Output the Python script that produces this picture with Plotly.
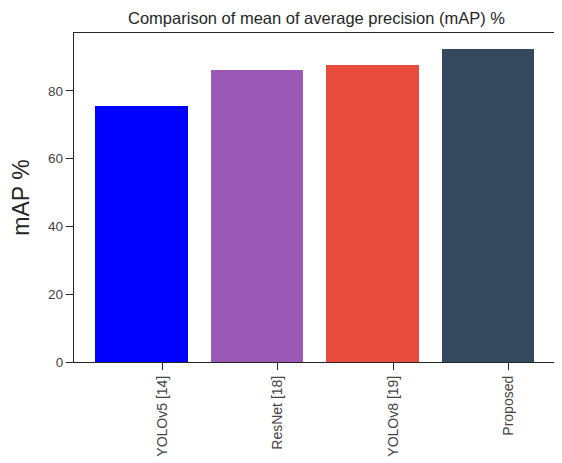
import plotly.graph_objects as go

categories = ["YOLOv5 [14]", "ResNet [18]", "YOLOv8 [19]", "Proposed"]
map_values = [75.5, 86.2, 87.6, 92.4]
bar_colors = ["#0000ff", "#9b59b6", "#e74c3c", "#34495e"]
y_ticks = [0, 20, 40, 60, 80]

positions = list(range(len(categories)))
tick_offset = 0.18

# The page body has an 8px default margin; size the figure to fit the window.
page_offset = 8
fig_w = 562 - page_offset
fig_h = 463 - page_offset

fig = go.Figure(
    go.Bar(
        x=positions,
        y=map_values,
        width=0.8,
        marker=dict(color=bar_colors, line=dict(width=0)),
    )
)

axis_color = "#262626"
fig.update_layout(
    width=fig_w,
    height=fig_h,
    margin=dict(l=74 - page_offset, r=3, t=33 - page_offset, b=101, autoexpand=False),
    plot_bgcolor="white",
    paper_bgcolor="white",
    font=dict(family="Liberation Sans, Arial, sans-serif", color="#333333"),
    showlegend=False,
    bargap=0,
    title=dict(
        text="Comparison of mean of average precision (mAP) %",
        x=0.5,
        xref="paper",
        xanchor="center",
        y=1 - (18 - page_offset) / fig_h,
        yref="container",
        yanchor="middle",
        font=dict(size=16.5, color=axis_color),
    ),
)

fig.update_xaxes(
    automargin=False,
    range=[-0.584, 3.616],
    tickmode="array",
    tickvals=[p + tick_offset for p in positions],
    ticktext=categories,
    tickangle=-90,
    tickfont=dict(size=14, color="#444444"),
    ticks="outside",
    ticklen=7,
    tickwidth=1.2,
    tickcolor=axis_color,
    showline=True,
    linecolor=axis_color,
    linewidth=1.3,
    mirror=True,
    showgrid=False,
    zeroline=False,
)

fig.update_yaxes(
    automargin=False,
    range=[0, 97.1],
    tickmode="array",
    tickvals=y_ticks,
    ticktext=[str(v) for v in y_ticks],
    tickfont=dict(size=13.5, color="#444444"),
    ticks="outside",
    ticklen=7,
    tickwidth=1.2,
    tickcolor=axis_color,
    showline=True,
    linecolor=axis_color,
    linewidth=1.3,
    mirror=True,
    showgrid=False,
    zeroline=False,
    title=dict(text="mAP %", font=dict(size=23, color=axis_color), standoff=12),
)

fig.write_html("out.html")
